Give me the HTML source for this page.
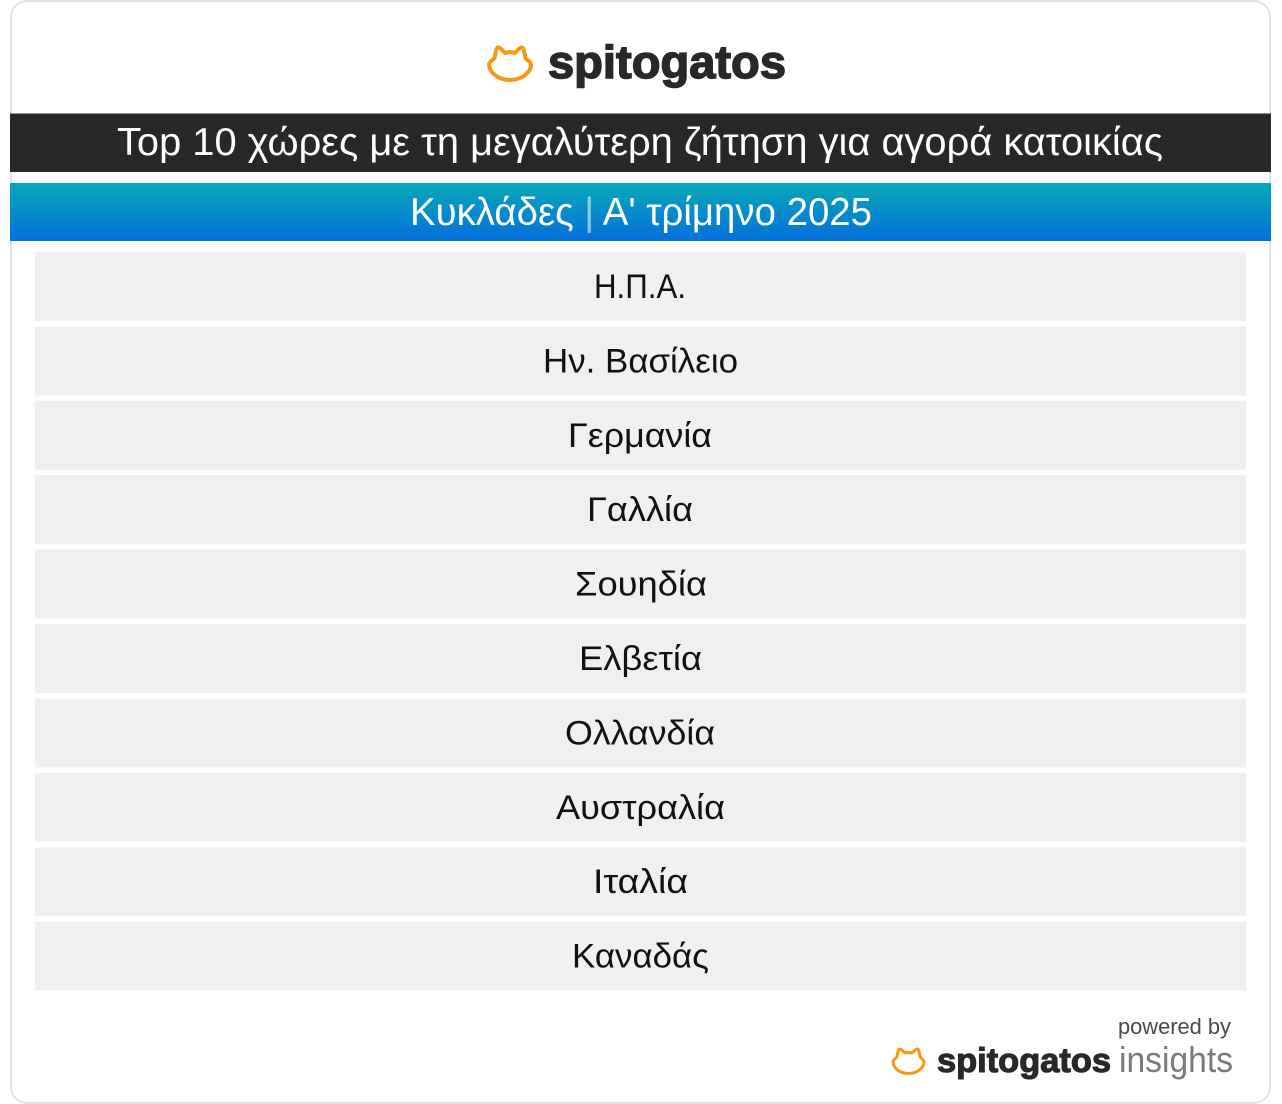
<!DOCTYPE html>
<html lang="el">
<head>
<meta charset="utf-8">
<title>Top 10 χώρες</title>
<style>
html,body{margin:0;padding:0;background:#fff;width:1282px;height:1104px;overflow:hidden}
svg{display:block}
text{font-family:"Liberation Sans","Noto Sans CJK JP",sans-serif}
.row-label{font-size:34px;fill:#111}
</style>
</head>
<body>
<svg width="1282" height="1104" viewBox="0 0 1282 1104" xmlns="http://www.w3.org/2000/svg">
<defs>
<linearGradient id="subGrad" x1="0" y1="0" x2="0" y2="1">
<stop offset="0" stop-color="#07a8b8"/>
<stop offset="1" stop-color="#0670dc"/>
</linearGradient>
</defs>
<rect x="11" y="1" width="1259" height="1102" rx="16" ry="16" fill="#fff" stroke="#e4e4e4" stroke-width="2"/>

<g>
<path d="M498 47.500 C500 47 503 51 505 53 C508 52 512 52 515 53 C517 51 520 47 522 47.500 C524 48 524.500 54 525.500 58 C527 60 531 62 531 64.500 C531 72 522 80 510 80 C498 80 489 72 489 64.500 C489 62 493 60 494.500 58 C495.500 54 496 48 498 47.500 Z" fill="none" stroke="#f7980f" stroke-width="4" stroke-linejoin="round"/>
<text x="548" y="78" font-size="46.500" font-weight="700" fill="#27282a" stroke="#27282a" stroke-width="1.500" textLength="238" lengthAdjust="spacingAndGlyphs">spitogatos</text>
</g>

<rect x="10" y="113.500" width="1261" height="58.500" fill="#27282a"/>
<text x="117" y="155" font-size="38.500" fill="#fff" textLength="1046" lengthAdjust="spacingAndGlyphs">Top 10 χώρες με τη μεγαλύτερη ζήτηση για αγορά κατοικίας</text>

<rect x="10" y="183" width="1261" height="58" fill="url(#subGrad)"/>
<text x="410" y="225" font-size="38.500" fill="#fff" textLength="462" lengthAdjust="spacingAndGlyphs">Κυκλάδες <tspan fill-opacity="0.55">|</tspan> Α' τρίμηνο 2025</text>

<g>
<rect x="35" y="252" width="1211" height="69" fill="#f0f0ee"/>
<rect x="35" y="326.400" width="1211" height="69" fill="#f0f0ee"/>
<rect x="35" y="400.800" width="1211" height="69" fill="#f0f0ee"/>
<rect x="35" y="475.200" width="1211" height="69" fill="#f0f0ee"/>
<rect x="35" y="549.600" width="1211" height="69" fill="#f0f0ee"/>
<rect x="35" y="624" width="1211" height="69" fill="#f0f0ee"/>
<rect x="35" y="698.400" width="1211" height="69" fill="#f0f0ee"/>
<rect x="35" y="772.800" width="1211" height="69" fill="#f0f0ee"/>
<rect x="35" y="847.200" width="1211" height="69" fill="#f0f0ee"/>
<rect x="35" y="921.600" width="1211" height="69" fill="#f0f0ee"/>

<text class="row-label" x="594" y="298" textLength="92" lengthAdjust="spacingAndGlyphs">Η.Π.Α.</text>
<text class="row-label" x="543" y="372.400" textLength="195" lengthAdjust="spacingAndGlyphs">Ην. Βασίλειο</text>
<text class="row-label" x="568" y="446.800" textLength="144" lengthAdjust="spacingAndGlyphs">Γερμανία</text>
<text class="row-label" x="587" y="521.200" textLength="106" lengthAdjust="spacingAndGlyphs">Γαλλία</text>
<text class="row-label" x="575" y="595.600" textLength="132" lengthAdjust="spacingAndGlyphs">Σουηδία</text>
<text class="row-label" x="579" y="670" textLength="123" lengthAdjust="spacingAndGlyphs">Ελβετία</text>
<text class="row-label" x="565" y="744.400" textLength="150" lengthAdjust="spacingAndGlyphs">Ολλανδία</text>
<text class="row-label" x="556" y="818.800" textLength="169" lengthAdjust="spacingAndGlyphs">Αυστραλία</text>
<text class="row-label" x="593" y="893.200" textLength="95" lengthAdjust="spacingAndGlyphs">Ιταλία</text>
<text class="row-label" x="572" y="967.600" textLength="137" lengthAdjust="spacingAndGlyphs">Καναδάς</text>
</g>

<g>
<text x="1118" y="1034" font-size="22" fill="#4a4a4a" textLength="113" lengthAdjust="spacingAndGlyphs">powered by</text>
<path d="M899.500 1049 C901 1048.700 903.500 1051.500 905 1053 C907 1052.400 910 1052.400 912 1053 C913.500 1051.500 916 1048.700 917.500 1049 C919 1049.400 919.400 1054 920.200 1057 C921.300 1058.500 924 1060 924 1061.800 C924 1067.500 917.500 1073.500 908.500 1073.500 C899.500 1073.500 893 1067.500 893 1061.800 C893 1060 895.700 1058.500 896.800 1057 C897.600 1054 898 1049.400 899.500 1049 Z" fill="none" stroke="#f7980f" stroke-width="3" stroke-linejoin="round"/>
<text x="937" y="1072" font-size="34" font-weight="700" fill="#27282a" stroke="#27282a" stroke-width="1.100" textLength="174" lengthAdjust="spacingAndGlyphs">spitogatos</text>
<text x="1119" y="1072" font-size="36" fill="#7a7a7a" textLength="114" lengthAdjust="spacingAndGlyphs">insights</text>
</g>
</svg>
</body>
</html>
